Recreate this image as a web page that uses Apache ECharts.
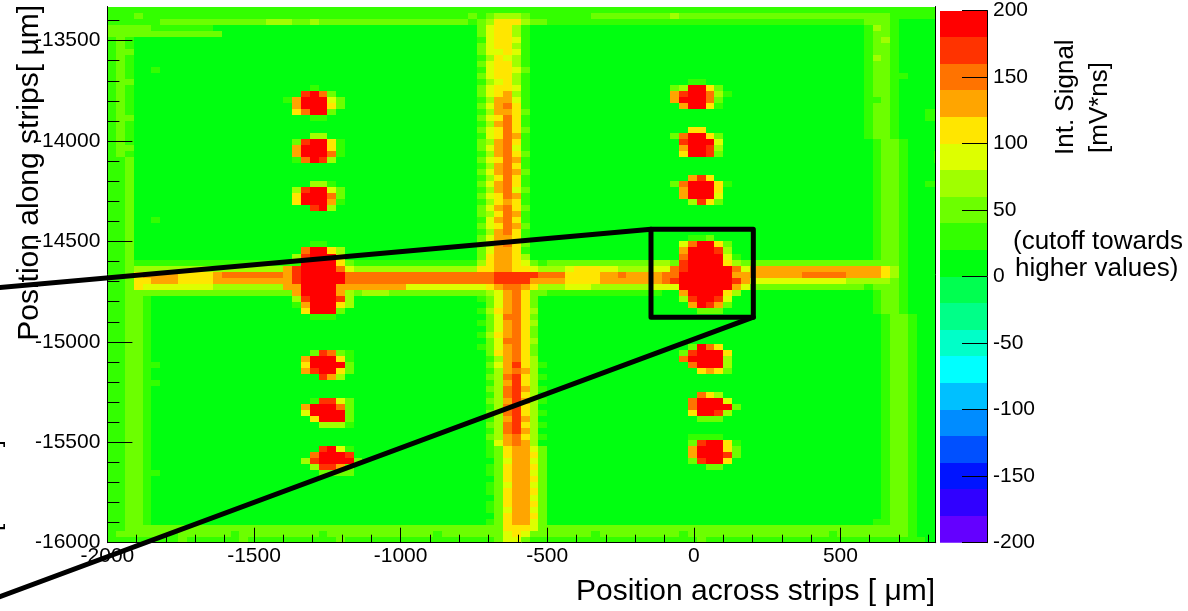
<!DOCTYPE html>
<html>
<head>
<meta charset="utf-8">
<script src="https://cdn.jsdelivr.net/npm/echarts@6/dist/echarts.min.js"></script>
<style>
  html, body { margin: 0; padding: 0; background: #ffffff; }
  #chart { width: 1188px; height: 611px; }
</style>
</head>
<body>
<div id="chart"></div>
<script>
// Integrated signal map on a 30 µm × 30 µm binning.
// Each character is one bin: the 20 mV*ns band it falls in
// (0 → 0–20, 1 → 20–40, … 9 → 180–200 and above, cut off there).
// Rows run from the top of the scan (-13330 µm) down to -16000 µm;
// columns run from -2000 µm towards +850 µm. Spaces only group columns.
const binSize = 30;
const xFirstBin = -2000;
const yLastBin = -16000;

const signalRows = [
  "11111 111111111111111 111111111 1111111111111 11111111 1111111111111 1111111111 1111111111111 111111111",
  "11121 111111111111111 111111111 1111111111112 12333211 1111122222222 2322222222 2222222222222 222111111",
  "11111 122222222222233 322322222 2222222222221 23555322 1111111111111 1111111111 1111111111111 222100000",
  "22222 111111100000000 000000000 0000000000000 24553100 0000000000000 0000000000 0000000000000 132100000",
  "22222 222222220000000 000000000 0000000000000 24553100 0000000000000 0000000000 0000000000000 122100000",
  "12100 000000000000000 000000000 0000000000000 14554100 0000000000000 0000000000 0000000000000 123100000",
  "12100 000000000000000 000000000 0000000000000 24553100 0000000000000 0000000000 0000000000000 122100000",
  "12200 000000000000000 000000000 0000000000000 24454100 0000000000000 0000000000 0000000000000 122100000",
  "12100 000000000000000 000000000 0000000000000 13543100 0000000000000 0000000000 0000000000000 132100000",
  "12100 000000000000000 000000000 0000000000000 24553100 0000000000000 0000000000 0000000000000 122100000",
  "12100 100000000000000 000000000 0000000000000 14554200 0000000000000 0000000000 0000000000000 122100000",
  "12100 000000000000000 000000000 0000000000000 24553100 0000000000000 0000000000 0000000000000 122110000",
  "12200 000000000000000 000000000 0000000000000 13453100 0000000000000 0001100000 0000000000000 122100000",
  "12100 000000000000000 000100000 0000000000000 24554100 0000000000000 0239952000 0000000000000 122100000",
  "12100 000000000000000 008972000 0000000000000 24563100 0000000000000 0689973100 0000000000000 122100000",
  "12100 000000000000000 169994200 0000000000000 13664100 0000000000000 0699972000 0000000000000 112100000",
  "12100 000000000000000 069995200 0000000000000 24675100 0000000000000 0069951000 0000000000000 122100000",
  "12100 000000000000000 057992000 0000000000000 13665200 0000000000000 0000000000 0000000000000 122100011",
  "12200 000000000000000 000110000 0000000000000 24575100 0000000000000 0000000000 0000000000000 122100011",
  "12100 000000000000000 000000000 0000000000000 13675100 0000000000000 0000000000 0000000000000 122100000",
  "12100 000000000000000 000000000 0000000000000 24575200 0000000000000 0005500000 0000000000000 122100000",
  "12100 000000000000000 000330000 0000000000000 14576100 0000000000000 0279952000 0000000000000 122100000",
  "12100 000000000000000 028995100 0000000000000 23675100 0000000000000 0089994000 0000000000000 012210000",
  "12200 000000000000000 069995100 0000000000000 24674100 0000000000000 0069983000 0000000000000 012210000",
  "12100 000000000000000 069997100 0000000000000 13675200 0000000000000 0059982000 0000000000000 012210001",
  "11200 000000000000000 017983000 0000000000000 24576100 0000000000000 0000000000 0000000000000 012210001",
  "11200 000000000000000 000000000 0000000000000 13675100 0000000000000 0000000000 0000000000000 012210000",
  "11200 000000000000000 000000000 0000000000000 24676200 0000000000000 0000000000 0000000000000 012210000",
  "11200 000000000000000 000000000 0000000000000 13575100 0000000000000 0006850000 0000000000000 012210000",
  "11200 000000000000000 000331000 0000000000000 24675100 0000000000000 0279995100 0000000000000 012210011",
  "11200 000000000000000 038994200 0000000000000 13674200 0000000000000 0069995000 0000000000000 012210000",
  "11200 000000000000000 059997200 0000000000000 24576100 0000000000000 0069994000 0000000000000 012210000",
  "11200 000000000000000 059996100 0000000000000 13565100 0000000000000 0003852000 0000000000000 012210000",
  "11200 000000000000000 000893000 0000000000000 24675200 0000000000000 0000000000 0000000000000 012210000",
  "11200 000000000000000 000000000 0000000000000 23576100 0000000000000 0000000000 0000000000000 012210000",
  "11200 100000000000000 000000000 0000000000000 14675100 0000000000000 0000000000 0000000000000 012210000",
  "11200 000000000000000 000000000 0000000000000 24576200 0000000000000 0000000000 0000000000000 012210000",
  "11200 000000000000000 000000000 0000000000000 13675100 0000000000000 0000000000 0000000000000 012210000",
  "11200 000000000000000 000000000 0000000000000 24665100 0000000000000 0001120000 0000000000000 012210000",
  "11200 000000000000000 000110000 0000000000000 23675200 0000000000000 0047995200 0000000000000 012210000",
  "11200 000000000000000 007995300 0000000000000 24665100 0000000000000 0069998300 0000000000000 012210000",
  "11200 000000000000000 038999400 0000000000000 25665300 0000000000000 0079999410 0000000000000 012210000",
  "11211 111111111111111 119999521 1111111111111 35665421 2222222222223 3289999532 2222222222222 222210000",
  "11233 333333333333333 689999743 3333333333333 55665543 3345554433334 4789999974 6666666666666 665310000",
  "11256 666555567777777 689999977 7777777777777 77888887 7755556676666 7799999966 6666667777766 665310000",
  "11255 666555566666666 689999977 7777777777777 77888866 6655556666666 7899999986 4444444444433 333210000",
  "11254 444444433333333 669999666 6666644444444 45677653 3344433333334 4499999964 2222222222222 122210000",
  "11222 222222222222222 269999632 3332222222222 23467522 1111111111111 0069999530 0000000000000 012210000",
  "11221 000000000000000 038999830 0000000000000 12467520 0000000000000 0038998400 0000000000000 012210000",
  "11221 000000000000000 016999530 0000000000000 02467520 0000000000000 0006986200 0000000000000 012210000",
  "11221 000000000000000 005999200 0000000000000 13567530 0000000000000 0000222000 0000000000000 012210000",
  "11221 000000000000000 000111000 0000000000000 02477520 0000000000000 0000000000 0000000000000 001221000",
  "11221 000000000000000 000000000 0000000000000 12467530 0000000000000 0000000000 0000000000000 001221000",
  "11221 000000000000000 000000000 0000000000000 02467520 0000000000000 0000000000 0000000000000 001221000",
  "11221 000000000000000 000000000 0000000000000 13567520 0000000000000 0000000000 0000000000000 001221000",
  "11221 000000000000000 000000000 0000000000000 02477530 0000000000000 0000000000 0000000000000 001221000",
  "11221 000000000000000 000000000 0000000000000 12467520 0000000000000 0002975000 0000000000000 001221000",
  "11221 000000000000000 000287210 0000000000000 02567520 0000000000000 0028999500 0000000000000 001221000",
  "11221 000000000000000 006999510 0000000000000 01367530 0000000000000 0079999300 0000000000000 001221000",
  "11221 100000000000000 005999920 0000000000000 02468531 0000000000000 0007999300 0000000000000 001221000",
  "11221 000000000000000 006899520 0000000000000 01367630 0000000000000 0000565200 0000000000000 001221000",
  "11221 000000000000000 000086300 0000000000000 02378531 0000000000000 0000000000 0000000000000 001221000",
  "11221 100000000000000 000000000 0000000000000 01368530 0000000000000 0000000000 0000000000000 001221000",
  "11221 000000000000000 000000000 0000000000000 02378631 0000000000000 0000000000 0000000000000 001221000",
  "11221 000000000000000 000000000 0000000000000 01378530 0000000000000 0000753000 0000000000000 001221000",
  "11221 000000000000000 000188420 0000000000000 02368631 0000000000000 0007999400 0000000000000 001221000",
  "11221 000000000000000 006999720 0000000000000 01378530 0000000000000 0007999920 0000000000000 001221000",
  "11221 000000000000000 004999920 0000000000000 02378531 0000000000000 0005998300 0000000000000 001221000",
  "11221 000000000000000 000599920 0000000000000 01368630 0000000000000 0000222000 0000000000000 001221000",
  "11221 000000000000000 000033310 0000000000000 02378531 0000000000000 0000000000 0000000000000 001221000",
  "11221 000000000000000 000000000 0000000000000 01378630 0000000000000 0000000000 0000000000000 001221000",
  "11221 000000000000000 000000000 0000000000000 02367531 0000000000000 0001111000 0000000000000 001221000",
  "11221 000000000000000 000000000 0000000000000 01467630 0000000000000 0002899510 0000000000000 001221000",
  "11221 000000000000000 000089410 0000000000000 01256642 0000000000000 0006999520 0000000000000 001221000",
  "11221 000000000000000 000799980 0000000000000 01256652 0000000000000 0006999820 0000000000000 001221000",
  "11221 000000000000000 003899992 0000000000000 00246642 0000000000000 0002899500 0000000000000 001221000",
  "11221 000000000000000 000388620 0000000000000 01256652 0000000000000 0000022000 0000000000000 001221000",
  "11221 100000000000000 000022220 0000000000000 01256642 0000000000000 0000000000 0000000000000 001221000",
  "11221 000000000000000 000000000 0000000000000 00256652 0000000000000 0000000000 0000000000000 001221000",
  "11221 000000000000000 000000000 0000000000000 01246642 0000000000000 0000000000 0000000000000 001221000",
  "11221 000000000000000 000000000 0000000000000 01256652 0000000000000 0000000000 0000000000000 001221000",
  "11221 000000000000000 000000000 0000000000000 00256642 0000000000000 0000000000 0000000000000 001221000",
  "11221 000000000000000 000000000 0000000000000 01256652 0000000000000 0000000000 0000000000000 001221000",
  "11221 000000000000000 000000000 0000000000000 01246642 0000000000000 0000000000 0000000000000 001221000",
  "11221 000000000000000 000000000 0000000000000 00256652 0000000000000 0000000000 0000000000000 001221000",
  "11221 000000000000000 000000000 0000000000000 01256642 0000000000000 0000000000 0000000000000 011221000",
  "11222 222222222222222 222222222 2222222222222 22255542 2222222222222 2222222222 2222222222222 222221000",
  "12222 221222222122222 222212222 2222222212222 22245422 2222212222222 2212222222 2222222221222 222221000",
  "11111 111211111121111 111111211 1111111111111 11244211 1111111111111 1111211111 1111111111111 111111100"
];

// Axis ranges and tick labels (µm, and mV*ns for the colour scale)
const xRange = [-2000, 825];
const yRange = [-16000, -13330];
const xTickLabels = [-2000, -1500, -1000, -500, 0, 500];
const yTickLabels = [-16000, -15500, -15000, -14500, -14000, -13500];
const zTickLabels = [-200, -150, -100, -50, 0, 50, 100, 150, 200];
const zRange = [-200, 200];
const zStep = 20;

// Magnified region marked on the map (µm)
const zoomBox = { xMin: -146, xMax: 203, yMin: -14877, yMax: -14439 };

// Colour contours, from the lowest band to the highest
const contourColors = [
  '#6400ff', '#3000ff', '#0014ff', '#0050ff', '#008cff',
  '#00c0ff', '#00ffff', '#00ffc8', '#00ff88', '#00ff50',
  '#00ff10', '#33ff00', '#6cff00', '#a0ff00', '#ddff00',
  '#ffe600', '#ffa500', '#ff7300', '#ff3300', '#ff0000'
];

const FONT = '"Liberation Sans", Arial, Helvetica, sans-serif';
const NCOLS = 95;

// ---- build bin list [xLeft, yBottom, value] ----
const bins = [];
signalRows.forEach(function (row, r) {
  const cells = row.replace(/\s+/g, '');
  const yBottom = yLastBin + (signalRows.length - 1 - r) * binSize;
  for (let c = 0; c < NCOLS; c++) {
    const ch = cells.charAt(c) || '0';
    const band = parseInt(ch, 10);
    bins.push([xFirstBin + c * binSize, yBottom, band * zStep + zStep / 2]);
  }
});

// colour-scale segments [low, high, centre]
const scaleSegments = [];
for (let lo = zRange[0]; lo < zRange[1]; lo += zStep) {
  scaleSegments.push([lo, lo + zStep, lo + zStep / 2]);
}
const pieces = scaleSegments.map(function (s, i) {
  const p = { color: contourColors[i] };
  if (i > 0) p.gte = s[0];
  if (i < scaleSegments.length - 1) p.lt = s[1];
  return p;
});

function snapRect(p0, p1, coordSys) {
  const left = Math.round(p0[0]);
  const top = Math.round(p0[1]);
  return echarts.graphic.clipRectByRect(
    { x: left, y: top, width: Math.round(p1[0]) - left, height: Math.round(p1[1]) - top },
    { x: coordSys.x, y: coordSys.y, width: coordSys.width, height: coordSys.height }
  );
}

function renderBin(params, api) {
  const x0 = api.value(0);
  const y0 = api.value(1);
  const p0 = api.coord([x0, y0 + binSize]);
  const p1 = api.coord([x0 + binSize, y0]);
  const shape = snapRect(p0, p1, params.coordSys);
  if (!shape) return;
  return { type: 'rect', shape: shape, style: { fill: api.visual('color') } };
}

function renderSegment(params, api) {
  const p0 = api.coord([0, api.value(1)]);
  const p1 = api.coord([1, api.value(0)]);
  const shape = snapRect(p0, p1, params.coordSys);
  if (!shape) return;
  return { type: 'rect', shape: shape, style: { fill: api.visual('color') } };
}

const labelStyle = { color: '#000', fontSize: 21, fontFamily: FONT };
const plainNumber = function (v) { return String(v); };

const chart = echarts.init(document.getElementById('chart'), null, { renderer: 'canvas' });

chart.setOption({
  animation: false,
  backgroundColor: '#ffffff',
  grid: [
    { left: 107.4, top: 6.5, width: 828.3, height: 536.2 },
    { left: 940, top: 6.5, width: 47, height: 536.2 }
  ],
  xAxis: [
    {
      type: 'value', gridIndex: 0, min: xRange[0], max: xRange[1], interval: 500,
      position: 'bottom', z: 10,
      axisLine: { show: true, onZero: false, lineStyle: { color: '#000', width: 1 } },
      axisTick: { show: true, inside: true, length: 15, customValues: xTickLabels, lineStyle: { color: '#000' } },
      minorTick: { show: true, splitNumber: 5, length: 8, lineStyle: { color: '#000' } },
      axisLabel: Object.assign({ margin: 3, customValues: xTickLabels, formatter: plainNumber }, labelStyle),
      splitLine: { show: false }, minorSplitLine: { show: false }
    },
    {
      type: 'value', gridIndex: 1, min: 0, max: 1, show: false
    }
  ],
  yAxis: [
    {
      type: 'value', gridIndex: 0, min: yRange[0], max: yRange[1], interval: 500,
      position: 'left', z: 10,
      axisLine: { show: true, onZero: false, lineStyle: { color: '#000', width: 1 } },
      axisTick: { show: true, inside: true, length: 25, customValues: yTickLabels, lineStyle: { color: '#000' } },
      minorTick: { show: true, splitNumber: 5, length: 12, lineStyle: { color: '#000' } },
      axisLabel: Object.assign({ margin: 7, customValues: yTickLabels, formatter: plainNumber }, labelStyle),
      splitLine: { show: false }, minorSplitLine: { show: false }
    },
    {
      type: 'value', gridIndex: 0, min: yRange[0], max: yRange[1],
      position: 'right', z: 10,
      axisLine: { show: true, onZero: false, lineStyle: { color: '#000', width: 1 } },
      axisTick: { show: false }, axisLabel: { show: false }, splitLine: { show: false }
    },
    {
      type: 'value', gridIndex: 1, min: zRange[0], max: zRange[1], interval: 50,
      position: 'right', z: 10,
      axisLine: { show: true, onZero: false, lineStyle: { color: '#000', width: 1 } },
      axisTick: { show: true, inside: true, length: 25, customValues: zTickLabels, lineStyle: { color: '#000' } },
      axisLabel: Object.assign({ margin: 6, customValues: zTickLabels, formatter: plainNumber }, labelStyle),
      splitLine: { show: false }
    }
  ],
  visualMap: {
    type: 'piecewise', show: false, dimension: 2, seriesIndex: [0, 1],
    pieces: pieces
  },
  series: [
    {
      name: 'Int. Signal', type: 'custom', coordinateSystem: 'cartesian2d',
      xAxisIndex: 0, yAxisIndex: 0, z: 2,
      renderItem: renderBin,
      encode: { x: 0, y: 1 },
      data: bins,
      silent: true
    },
    {
      name: 'scale', type: 'custom', coordinateSystem: 'cartesian2d',
      xAxisIndex: 1, yAxisIndex: 2, z: 2,
      renderItem: renderSegment,
      encode: { y: [0, 1] },
      data: scaleSegments,
      silent: true
    }
  ]
});

// Annotations: axis titles, colour-scale title, magnified-region marker
const boxTL = chart.convertToPixel({ xAxisIndex: 0, yAxisIndex: 0 }, [zoomBox.xMin, zoomBox.yMax]);
const boxBR = chart.convertToPixel({ xAxisIndex: 0, yAxisIndex: 0 }, [zoomBox.xMax, zoomBox.yMin]);
const lineStyle = { stroke: '#000', lineWidth: 5, fill: null, lineJoin: 'round', lineCap: 'round' };

function label(text, x, y, size, align, rot) {
  return {
    type: 'text', x: x, y: y, rotation: rot || 0, z: 100,
    style: { text: text, fill: '#000', font: size + 'px ' + FONT, textAlign: align, textVerticalAlign: 'middle' }
  };
}

chart.setOption({
  graphic: [
    label('Position across strips [ \u03bcm]', 935, 592, 30, 'right', 0),
    label('Position along strips[ \u03bcm]', 30, 5, 30, 'right', Math.PI / 2),
    label('Int. Signal', 1066, 155, 26, 'left', Math.PI / 2),
    label('[mV*ns]', 1100, 153, 26, 'left', Math.PI / 2),
    label('(cutoff towards', 1013, 242, 26, 'left', 0),
    label('higher values)', 1015, 269, 26, 'left', 0),
    label('[mV*ns]', -7, 531, 26, 'left', Math.PI / 2),
    {
      type: 'polyline', z: 110,
      shape: { points: [[-20, 289.3], [boxTL[0], boxTL[1]]] },
      style: lineStyle
    },
    {
      type: 'polyline', z: 110,
      shape: { points: [[-20, 604], [boxBR[0], boxBR[1]]] },
      style: lineStyle
    },
    {
      type: 'rect', z: 110,
      shape: { x: boxTL[0], y: boxTL[1], width: boxBR[0] - boxTL[0], height: boxBR[1] - boxTL[1] },
      style: lineStyle
    }
  ]
});
</script>
</body>
</html>
